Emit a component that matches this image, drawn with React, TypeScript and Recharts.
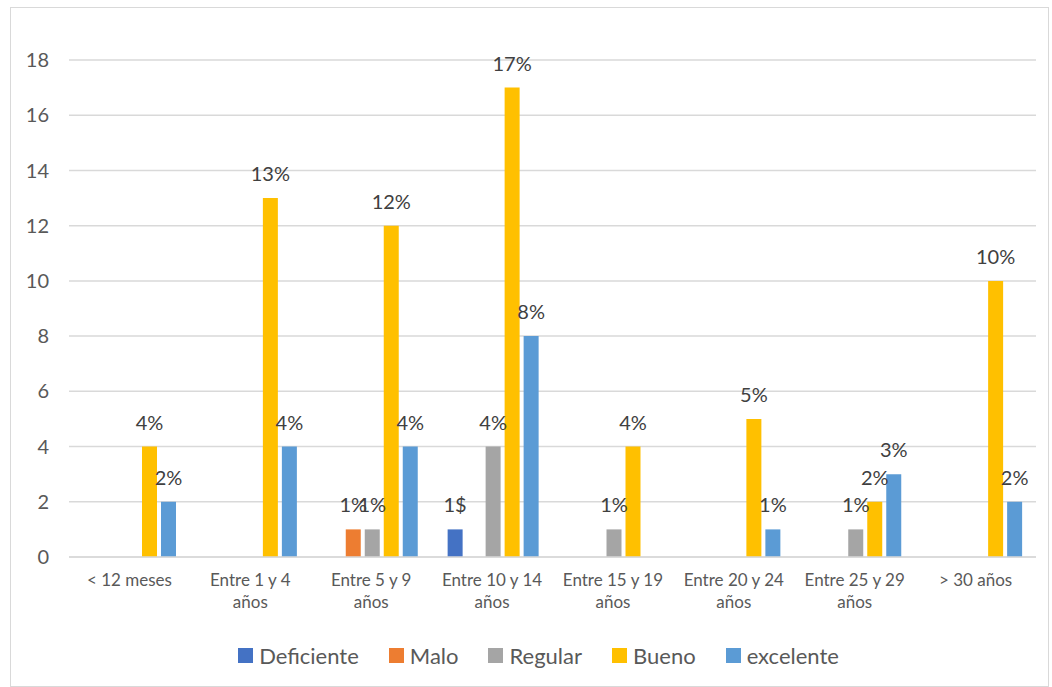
import React from 'react';
import { BarChart, Bar, XAxis, YAxis, CartesianGrid, LabelList, Legend } from 'recharts';

const categories = ['< 12 meses', 'Entre 1 y 4 años', 'Entre 5 y 9 años', 'Entre 10 y 14 años', 'Entre 15 y 19 años', 'Entre 20 y 24 años', 'Entre 25 y 29 años', '> 30 años'];

const deficiente = [0, 0, 0, 1, 0, 0, 0, 0];
const malo = [0, 0, 1, 0, 0, 0, 0, 0];
const regular = [0, 0, 1, 4, 1, 0, 1, 0];
const bueno = [4, 13, 12, 17, 4, 5, 2, 10];
const excelente = [2, 4, 4, 8, 0, 1, 3, 2];

const deficienteLabels = ['', '', '', '1$', '', '', '', ''];
const maloLabels = ['', '', '1%', '', '', '', '', ''];
const regularLabels = ['', '', '1%', '4%', '1%', '', '1%', ''];
const buenoLabels = ['4%', '13%', '12%', '17%', '4%', '5%', '2%', '10%'];
const excelenteLabels = ['2%', '4%', '4%', '8%', '', '1%', '3%', '2%'];

const yTicks = [0, 2, 4, 6, 8, 10, 12, 14, 16, 18];

const series = [
  { key: 'Deficiente', values: deficiente, labels: deficienteLabels, color: '#4472C4' },
  { key: 'Malo', values: malo, labels: maloLabels, color: '#ED7D31' },
  { key: 'Regular', values: regular, labels: regularLabels, color: '#A5A5A5' },
  { key: 'Bueno', values: bueno, labels: buenoLabels, color: '#FFC000' },
  { key: 'excelente', values: excelente, labels: excelenteLabels, color: '#5B9BD5' },
];

const data = categories.map((c, i) => {
  const row: any = { name: c };
  series.forEach((s) => {
    row[s.key] = s.values[i];
    row[s.key + '_lbl'] = s.labels[i];
  });
  return row;
});

const FONT = 'Lato, "Open Sans", sans-serif';

const XTick = (props: any) => {
  const { x, y, payload } = props;
  const label: string = payload.value;
  const lines = label.startsWith('Entre') ? [label.replace(' años', ''), 'años'] : [label];
  return (
    <text x={x} y={y} textAnchor="middle" fill="#595959" fontSize={17} fontFamily={FONT}>
      {lines.map((l, i) => (
        <tspan key={i} x={x} dy={i === 0 ? 29 : 22}>{l}</tspan>
      ))}
    </text>
  );
};

const LegendContent = () => (
  <div style={{ display: 'flex', justifyContent: 'center', alignItems: 'center', fontFamily: FONT, fontSize: 22, color: '#595959', paddingLeft: 18 }}>
    {series.map((s, i) => (
      <div key={s.key} style={{ display: 'flex', alignItems: 'center', marginRight: i === series.length - 1 ? 0 : 30 }}>
        <div style={{ width: 15, height: 15, background: s.color, marginRight: 6 }} />
        <span>{s.key}</span>
      </div>
    ))}
  </div>
);

export default function App() {
  return (
    <div style={{ position: 'absolute', left: 10, top: 7, width: 1037, height: 678, border: '1px solid #d9d9d9', background: '#fff' }}>
      <BarChart
        width={1037}
        height={678}
        data={data}
        margin={{ top: 52, right: 12, left: 0, bottom: 69 }}
        barCategoryGap={16}
        barGap={4}
      >
        <CartesianGrid vertical={false} stroke="#d9d9d9" strokeWidth={1.5} />
        <XAxis
          dataKey="name"
          height={60}
          tick={<XTick />}
          tickLine={false}
          tickSize={0}
          tickMargin={0}
          axisLine={{ stroke: '#d9d9d9', strokeWidth: 1.5 }}
          interval={0}
        />
        <YAxis
          width={58}
          domain={[0, 18]}
          ticks={yTicks}
          axisLine={false}
          tickLine={false}
          tickSize={0}
          tickMargin={20}
          tick={{ fill: '#595959', fontSize: 20, fontFamily: FONT }}
        />
        <Legend
          layout="horizontal"
          verticalAlign="middle"
          align="center"
          content={<LegendContent />}
          wrapperStyle={{ top: 634, left: 0, width: 1037 }}
        />
        {series.map((s) => (
          <Bar key={s.key} dataKey={s.key} fill={s.color} isAnimationActive={false}>
            <LabelList
              dataKey={s.key + '_lbl'}
              position="top"
              offset={17}
              fill="#404040"
              fontSize={20}
              fontFamily={FONT}
            />
          </Bar>
        ))}
      </BarChart>
    </div>
  );
}
